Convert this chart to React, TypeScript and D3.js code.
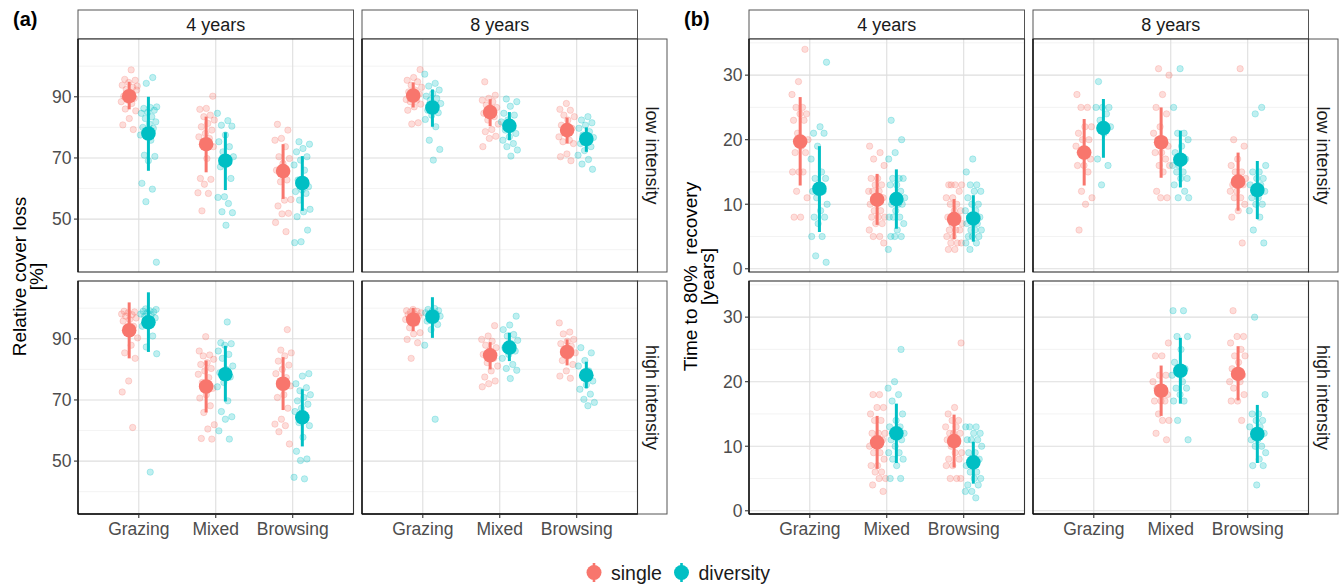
import React from 'react';
import * as d3 from 'd3';

const categories = ['Grazing', 'Mixed', 'Browsing'];
const groups = ['single', 'diversity'];
const years = ['4 years', '8 years'];
const intensities = ['low intensity', 'high intensity'];
const colors = ['#F8766D', '#00BFC4'];

// summaries: [mean, lower, upper], order G-single, G-diversity, M-single, M-diversity, B-single, B-diversity
const coverLow4 = [[90.2, 85.9, 94.9], [78.0, 65.8, 90.0], [74.5, 65.3, 83.5], [69.1, 59.5, 78.4], [65.7, 56.6, 74.5], [61.8, 52.7, 70.6]];
const coverLow8 = [[90.4, 86.5, 94.7], [86.5, 80.2, 92.4], [85.0, 80.4, 89.2], [80.5, 75.8, 85.0], [79.1, 74.7, 83.2], [76.2, 72.0, 80.0]];
const coverHigh4 = [[92.8, 83.6, 101.9], [95.4, 85.7, 105.2], [74.4, 65.9, 82.9], [78.4, 69.5, 87.7], [75.3, 66.7, 84.0], [64.3, 54.8, 73.5]];
const coverHigh8 = [[96.3, 92.5, 100.1], [97.2, 90.3, 103.6], [84.6, 80.0, 88.9], [87.1, 82.7, 92.0], [85.7, 81.3, 89.8], [78.1, 73.8, 82.5]];

const timeLow4 = [[19.7, 12.9, 26.6], [12.4, 5.7, 19.0], [10.7, 6.8, 14.7], [10.8, 6.2, 15.4], [7.7, 4.6, 10.8], [7.8, 4.2, 11.4]];
const timeLow8 = [[18.0, 12.9, 23.2], [21.8, 17.2, 26.3], [19.6, 14.1, 25.0], [16.9, 12.6, 21.4], [13.5, 9.0, 18.0], [12.2, 7.7, 16.7]];
const timeHigh4 = [null, null, [10.6, 6.5, 14.7], [12.0, 7.4, 16.6], [10.8, 6.7, 14.9], [7.5, 4.2, 10.7]];
const timeHigh8 = [null, null, [18.6, 14.7, 22.5], [21.7, 16.6, 26.8], [21.2, 17.1, 25.5], [11.9, 7.4, 16.4]];

// raw observations, same group order
const coverLow4Raw = [
  [98.8, 95.7, 95.4, 94.7, 93.8, 93.1, 92.4, 92.2, 91.3, 90.2, 89.5, 88.9, 88.4, 87.8, 86.0, 85.4, 82.9, 80.8, 79.3, 91.0, 93.5],
  [96.3, 94.4, 86.7, 86.5, 86.2, 85.6, 85.0, 84.6, 83.5, 82.9, 81.8, 81.1, 80.0, 79.7, 78.6, 77.5, 75.8, 70.9, 70.5, 69.1, 61.7, 59.8, 55.7, 35.9],
  [90.2, 86.2, 85.9, 84.0, 83.5, 82.4, 81.3, 80.2, 79.1, 78.0, 76.9, 76.4, 75.3, 73.7, 69.8, 63.3, 63.0, 61.4, 58.6, 58.4, 52.7],
  [84.6, 82.2, 80.7, 80.4, 77.5, 75.3, 73.7, 72.0, 70.4, 69.3, 67.1, 63.3, 57.3, 57.1, 55.1, 52.4, 52.1, 48.0],
  [81.0, 79.1, 76.4, 75.8, 73.7, 70.4, 69.8, 68.2, 66.0, 62.8, 62.2, 56.4, 56.2, 54.3, 51.9, 51.7, 48.9, 45.9],
  [75.3, 74.5, 73.1, 72.0, 70.4, 69.3, 67.7, 66.0, 62.8, 60.6, 59.5, 59.0, 58.4, 56.2, 53.2, 52.4, 50.8, 46.4, 42.6, 42.3],
];
const coverLow8Raw = [
  [98.9, 96.3, 95.4, 94.9, 93.8, 93.1, 92.2, 91.6, 90.9, 90.0, 89.1, 88.9, 88.4, 87.6, 86.7, 85.6, 81.5, 81.1],
  [97.4, 94.4, 93.5, 92.2, 91.1, 90.2, 89.5, 88.9, 87.8, 86.7, 85.6, 84.8, 84.0, 82.6, 80.2, 75.8, 72.8, 69.3],
  [94.9, 90.5, 89.5, 88.9, 88.4, 87.3, 86.5, 85.6, 84.6, 83.5, 82.4, 81.1, 79.3, 78.6, 77.1, 76.4, 73.7],
  [89.3, 88.4, 86.9, 84.6, 84.0, 82.4, 81.8, 80.2, 79.1, 78.0, 76.9, 75.8, 74.7, 73.7, 72.6, 70.6],
  [87.8, 85.9, 85.6, 84.0, 83.5, 82.4, 80.7, 79.7, 78.6, 76.9, 75.8, 75.3, 74.7, 71.3, 70.4, 69.1],
  [83.5, 82.4, 81.5, 80.7, 79.7, 78.6, 77.5, 76.7, 75.8, 74.7, 73.7, 72.4, 70.9, 69.5, 68.0, 66.3],
];
const coverHigh4Raw = [
  [99.0, 98.8, 98.5, 98.1, 97.9, 97.4, 96.8, 96.3, 95.8, 94.1, 92.0, 90.3, 87.9, 85.4, 83.6, 76.2, 72.6, 61.0],
  [99.8, 99.6, 99.2, 99.0, 98.8, 98.5, 98.1, 97.9, 97.4, 96.8, 95.8, 94.1, 90.9, 87.3, 85.1, 46.4],
  [90.7, 86.0, 84.7, 84.4, 83.3, 82.2, 81.6, 80.3, 79.5, 78.4, 77.3, 75.7, 73.8, 71.7, 70.6, 68.1, 65.9, 61.9, 60.5, 57.4, 57.2],
  [95.5, 88.7, 88.4, 87.9, 86.0, 84.9, 83.6, 81.1, 80.0, 78.9, 77.5, 75.7, 74.3, 69.7, 66.2, 64.5, 63.7, 59.9, 57.2],
  [93.0, 86.3, 85.4, 84.4, 82.7, 81.4, 80.0, 78.6, 77.3, 76.2, 74.6, 71.7, 70.8, 67.3, 63.7, 62.1, 61.6, 59.6, 55.6],
  [78.6, 77.8, 75.3, 74.0, 73.0, 71.7, 70.8, 69.7, 68.6, 67.3, 66.2, 64.3, 62.6, 61.6, 57.8, 53.2, 50.7, 50.2, 44.7, 44.2],
];
const coverHigh8Raw = [
  [99.6, 99.2, 99.0, 98.8, 98.5, 98.1, 97.9, 97.4, 96.8, 96.3, 95.2, 93.6, 92.0, 91.6, 89.8, 88.7, 83.6],
  [99.9, 99.6, 99.2, 99.0, 98.5, 98.1, 97.9, 97.4, 96.8, 95.8, 94.7, 93.0, 87.9, 63.7],
  [94.3, 90.9, 89.8, 89.2, 87.9, 87.1, 86.0, 84.9, 83.6, 82.2, 81.1, 79.5, 77.5, 76.2, 75.3, 74.3],
  [97.4, 94.5, 93.0, 91.4, 90.9, 89.5, 88.4, 87.1, 86.0, 84.9, 83.6, 81.6, 80.3, 79.7, 77.0],
  [95.2, 92.2, 91.6, 89.8, 89.2, 88.4, 87.6, 86.5, 85.4, 84.4, 82.9, 81.6, 79.5, 77.8, 77.1],
  [87.1, 85.4, 82.9, 81.1, 79.5, 77.8, 76.2, 74.9, 73.5, 71.9, 70.2, 69.2, 68.1],
];

const timeLow4Raw = [
  [34, 29, 27, 25, 25, 24, 24, 23, 23, 21, 20, 19, 18, 18, 15, 15, 15, 12, 11, 8, 8],
  [32, 22, 21, 21, 19, 17, 15, 14, 14, 13, 12, 12, 11, 10, 9, 8, 8, 7, 5, 5, 2, 1],
  [19, 18, 17, 16, 14, 14, 13, 13, 12, 12, 12, 11, 11, 10, 9, 9, 8, 8, 8, 7, 7, 6, 5, 5, 4],
  [23, 20, 18, 17, 14, 14, 14, 13, 13, 12, 11, 11, 10, 10, 10, 9, 8, 8, 8, 7, 6, 5, 5, 5, 3],
  [13, 13, 13, 13, 12, 11, 11, 10, 10, 9, 9, 8, 8, 7, 7, 6, 6, 6, 5, 5, 4, 4, 4, 3, 3],
  [17, 15, 13, 13, 12, 12, 11, 10, 10, 9, 9, 8, 8, 7, 7, 7, 6, 6, 6, 5, 5, 5, 4, 4, 3],
];
const timeLow8Raw = [
  [27, 25, 25, 22, 22, 21, 20, 20, 19, 18, 18, 17, 16, 16, 15, 12, 11, 10, 6],
  [29, 25, 25, 25, 24, 23, 22, 21, 17, 16, 13],
  [31, 30, 27, 25, 24, 22, 21, 20, 20, 19, 18, 18, 17, 16, 16, 15, 12, 11, 11],
  [31, 25, 21, 21, 20, 19, 18, 17, 16, 16, 15, 15, 14, 14, 13, 12, 11, 11],
  [31, 20, 19, 17, 16, 15, 15, 14, 14, 13, 13, 12, 12, 11, 11, 10, 9, 8, 4],
  [25, 24, 16, 15, 15, 14, 14, 13, 13, 12, 12, 11, 11, 10, 10, 9, 8, 6, 4],
];
const timeHigh4Raw = [
  [],
  [],
  [18, 18, 16, 16, 15, 14, 14, 12, 12, 12, 11, 11, 10, 9, 9, 8, 7, 7, 6, 6, 5, 5, 4, 3],
  [25, 20, 19, 18, 17, 15, 14, 13, 13, 12, 12, 12, 11, 11, 10, 9, 9, 8, 8, 7, 5, 5],
  [26, 16, 15, 14, 14, 13, 13, 12, 12, 12, 11, 11, 10, 9, 9, 8, 8, 7, 7, 5, 5, 5],
  [13, 13, 13, 12, 12, 11, 11, 11, 10, 9, 9, 8, 7, 7, 6, 6, 5, 5, 4, 4, 3, 3, 2],
];
const timeHigh8Raw = [
  [],
  [],
  [26, 24, 24, 21, 21, 20, 19, 19, 18, 17, 17, 17, 15, 14, 14, 12, 11],
  [31, 31, 27, 27, 25, 23, 22, 22, 21, 20, 19, 19, 18, 17, 17, 14, 11],
  [31, 27, 27, 26, 25, 24, 24, 23, 22, 21, 21, 20, 20, 19, 18, 17, 17, 14],
  [30, 18, 15, 15, 14, 14, 13, 13, 12, 12, 11, 11, 10, 10, 9, 8, 7, 7, 4],
];

const coverTicks = [50, 70, 90];
const coverMinor = [40, 60, 80, 100];
const timeTicks = [0, 10, 20, 30];
const timeMinor = [5, 15, 25, 35];

const font = 'Liberation Sans, Arial, Helvetica, sans-serif';

// layout
const rowTop = [39, 281];
const rowH = 233;
const colOffset = [0, 284];
const panelW = 275.5;
const stripTop = 10;
const stripH = 29;
const sideStripW = 29.5;

const figures = [
  {
    tag: '(a)',
    left: 78,
    title: ['Relative cover loss', '[%]'],
    domain: [32.7, 108.9],
    ticks: coverTicks,
    minor: coverMinor,
    summaries: [[coverLow4, coverLow8], [coverHigh4, coverHigh8]],
    raws: [[coverLow4Raw, coverLow8Raw], [coverHigh4Raw, coverHigh8Raw]],
  },
  {
    tag: '(b)',
    left: 749,
    title: ['Time to 80%  recovery', '[years]'],
    domain: [-0.5, 35.6],
    ticks: timeTicks,
    minor: timeMinor,
    summaries: [[timeLow4, timeLow8], [timeHigh4, timeHigh8]],
    raws: [[timeLow4Raw, timeLow8Raw], [timeHigh4Raw, timeHigh8Raw]],
  },
];

const Facet = ({ x0, y0, domain, ticks, minor, summary, raw, showY, showX, seed }) => {
  const x = d3.scalePoint().domain(categories).range([x0, x0 + panelW]).padding(0.79);
  const y = d3.scaleLinear().domain(domain).range([y0 + rowH, y0]);
  const step = x.step();
  const dodge = step * 0.125;
  const jit = step * 0.11;
  const gx = (k) => x(categories[Math.floor(k / 2)]) + (k % 2 === 0 ? -dodge : dodge);

  return (
    <g>
      <rect x={x0} y={y0} width={panelW} height={rowH} fill="#fff" />
      {minor.map(v => (
        <line key={'mn' + v} x1={x0} x2={x0 + panelW} y1={y(v)} y2={y(v)} stroke="#F0F0F0" strokeWidth={0.8} />
      ))}
      {ticks.map(v => (
        <line key={'mj' + v} x1={x0} x2={x0 + panelW} y1={y(v)} y2={y(v)} stroke="#DEDEDE" strokeWidth={1.1} />
      ))}
      {categories.map(c => (
        <line key={'v' + c} x1={x(c)} x2={x(c)} y1={y0} y2={y0 + rowH} stroke="#DEDEDE" strokeWidth={1.1} />
      ))}

      {raw.map((vals, k) => vals.map((v, i) => {
        const frac = ((i + 1) * 0.6180339887 + k * 0.137 + seed * 0.291) % 1;
        return (
          <circle key={`r${k}-${i}`} cx={gx(k) + (frac - 0.5) * 2 * jit} cy={y(v)} r={3.2}
            fill={colors[k % 2]} fillOpacity={0.25} stroke={colors[k % 2]} strokeOpacity={0.3} strokeWidth={0.8} />
        );
      }))}

      {summary.map((s, k) => s && (
        <g key={'s' + k}>
          <line x1={gx(k)} x2={gx(k)} y1={y(s[1])} y2={y(s[2])} stroke={colors[k % 2]} strokeWidth={3} />
          <circle cx={gx(k)} cy={y(s[0])} r={7.3} fill={colors[k % 2]} />
        </g>
      ))}

      <rect x={x0} y={y0} width={panelW} height={rowH} fill="none" stroke="#333" strokeWidth={1.1} />
      <line x1={x0} x2={x0} y1={y0} y2={y0 + rowH} stroke="#111" strokeWidth={1.4} />
      {showX && <line x1={x0} x2={x0 + panelW} y1={y0 + rowH} y2={y0 + rowH} stroke="#111" strokeWidth={1.4} />}

      {showY && ticks.map(v => (
        <g key={'yt' + v}>
          <line x1={x0 - 4} x2={x0} y1={y(v)} y2={y(v)} stroke="#333" strokeWidth={1.1} />
          <text x={x0 - 6.5} y={y(v)} dy="0.36em" textAnchor="end" fontSize={17.5} fill="#4D4D4D" fontFamily={font}>{v}</text>
        </g>
      ))}
      {showX && categories.map(c => (
        <g key={'xt' + c}>
          <line x1={x(c)} x2={x(c)} y1={y0 + rowH} y2={y0 + rowH + 4} stroke="#333" strokeWidth={1.1} />
          <text x={x(c)} y={y0 + rowH + 20.5} textAnchor="middle" fontSize={17.5} fill="#4D4D4D" fontFamily={font}>{c}</text>
        </g>
      ))}
    </g>
  );
};

const Figure = ({ fig, fi }) => {
  const centerY = (rowTop[0] + rowTop[1] + rowH) / 2;
  const stripX = fig.left + colOffset[1] + panelW;
  return (
    <g>
      <text x={fig.left - 65} y={26} fontSize={20} fontWeight="bold" fontFamily={font} fill="#000">{fig.tag}</text>
      <g transform={`translate(${fig.left - 52.5},${centerY}) rotate(-90)`}>
        <text x={0} y={0} textAnchor="middle" fontSize={19} fontFamily={font} fill="#000" style={{ whiteSpace: 'pre' }}>{fig.title[0]}</text>
        <text x={0} y={17.2} textAnchor="middle" fontSize={19} fontFamily={font} fill="#000">{fig.title[1]}</text>
      </g>
      {years.map((yr, c) => (
        <g key={'st' + yr}>
          <rect x={fig.left + colOffset[c]} y={stripTop} width={panelW} height={stripH} fill="#fff" stroke="#555" strokeWidth={1} />
          <text x={fig.left + colOffset[c] + panelW / 2} y={stripTop + stripH / 2} dy="0.36em" textAnchor="middle" fontSize={18} fontFamily={font} fill="#1A1A1A">{yr}</text>
        </g>
      ))}
      {intensities.map((lab, r) => (
        <g key={'si' + lab}>
          <rect x={stripX} y={rowTop[r]} width={sideStripW} height={rowH} fill="#fff" stroke="#555" strokeWidth={1} />
          <text transform={`translate(${stripX + sideStripW / 2},${rowTop[r] + rowH / 2}) rotate(90)`} dy="0.36em" textAnchor="middle" fontSize={18} fontFamily={font} fill="#1A1A1A">{lab}</text>
        </g>
      ))}
      {intensities.map((_, r) => years.map((_, c) => (
        <Facet key={`f${r}${c}`} x0={fig.left + colOffset[c]} y0={rowTop[r]} domain={fig.domain}
          ticks={fig.ticks} minor={fig.minor} summary={fig.summaries[r][c]} raw={fig.raws[r][c]}
          showY={c === 0} showX={r === 1} seed={fi * 4 + r * 2 + c} />
      )))}
    </g>
  );
};

const Legend = () => {
  const items = [{ x: 594, label: groups[0] }, { x: 681.5, label: groups[1] }];
  const cy = 572.5;
  return (
    <g>
      {items.map((it, i) => (
        <g key={it.label}>
          <line x1={it.x} x2={it.x} y1={cy - 9.5} y2={cy + 9.5} stroke={colors[i]} strokeWidth={2.6} />
          <circle cx={it.x} cy={cy} r={7.5} fill={colors[i]} />
          <text x={it.x + 17} y={cy + 7} fontSize={19.5} fontFamily={font} fill="#1A1A1A">{it.label}</text>
        </g>
      ))}
    </g>
  );
};

export default function App() {
  return (
    <svg width={1341} height={587} style={{ display: 'block', position: 'absolute', left: 0, top: 0 }}>
      <rect width={1341} height={587} fill="#fff" />
      {figures.map((f, i) => <Figure key={f.tag} fig={f} fi={i} />)}
      <Legend />
    </svg>
  );
}
